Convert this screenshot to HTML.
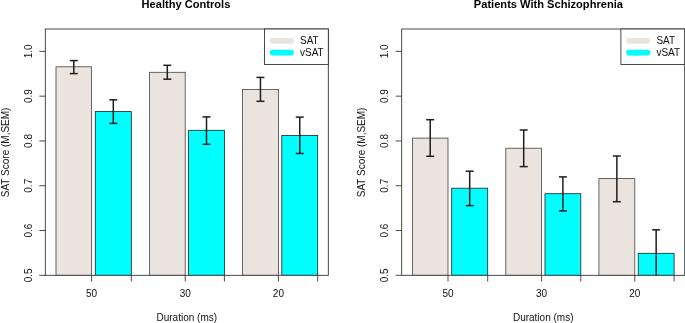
<!DOCTYPE html>
<html><head><meta charset="utf-8"><style>
html,body{margin:0;padding:0;background:#fff;width:685px;height:323px;overflow:hidden;}
svg{display:block;will-change:transform;}
text{font-family:"Liberation Sans",sans-serif;}
</style></head><body>
<svg width="685" height="323" viewBox="0 0 685 323"><rect width="685" height="323" fill="#fff"/><defs><clipPath id="c0"><rect x="45.30" y="29.00" width="283.00" height="246.30"/></clipPath><clipPath id="c1"><rect x="401.70" y="29.00" width="283.00" height="246.30"/></clipPath></defs><g clip-path="url(#c0)"><rect x="56.00" y="66.80" width="35.60" height="208.50" fill="#EBE3DE" stroke="#444" stroke-width="0.8"/><rect x="95.30" y="111.60" width="36.00" height="163.70" fill="#00FFFF" stroke="#222" stroke-width="0.8"/><rect x="149.40" y="72.30" width="35.80" height="203.00" fill="#EBE3DE" stroke="#444" stroke-width="0.8"/><rect x="188.60" y="130.30" width="35.80" height="145.00" fill="#00FFFF" stroke="#222" stroke-width="0.8"/><rect x="242.50" y="89.40" width="35.90" height="185.90" fill="#EBE3DE" stroke="#444" stroke-width="0.8"/><rect x="281.80" y="135.40" width="35.90" height="139.90" fill="#00FFFF" stroke="#222" stroke-width="0.8"/></g><g stroke="#1e1e1e" stroke-width="1.5"><line x1="73.80" y1="60.60" x2="73.80" y2="73.60"/><line x1="69.80" y1="60.60" x2="77.80" y2="60.60"/><line x1="69.80" y1="73.60" x2="77.80" y2="73.60"/><line x1="113.30" y1="99.80" x2="113.30" y2="123.40"/><line x1="109.30" y1="99.80" x2="117.30" y2="99.80"/><line x1="109.30" y1="123.40" x2="117.30" y2="123.40"/><line x1="167.30" y1="65.30" x2="167.30" y2="79.20"/><line x1="163.30" y1="65.30" x2="171.30" y2="65.30"/><line x1="163.30" y1="79.20" x2="171.30" y2="79.20"/><line x1="206.50" y1="116.90" x2="206.50" y2="144.30"/><line x1="202.50" y1="116.90" x2="210.50" y2="116.90"/><line x1="202.50" y1="144.30" x2="210.50" y2="144.30"/><line x1="260.45" y1="77.40" x2="260.45" y2="101.30"/><line x1="256.45" y1="77.40" x2="264.45" y2="77.40"/><line x1="256.45" y1="101.30" x2="264.45" y2="101.30"/><line x1="299.75" y1="117.10" x2="299.75" y2="153.50"/><line x1="295.75" y1="117.10" x2="303.75" y2="117.10"/><line x1="295.75" y1="153.50" x2="303.75" y2="153.50"/></g><rect x="45.30" y="29.00" width="283.00" height="246.30" fill="none" stroke="#2a2a2a" stroke-width="0.85"/><g stroke="#2a2a2a" stroke-width="0.85"><line x1="39.30" y1="275.30" x2="45.30" y2="275.30"/><line x1="39.30" y1="230.52" x2="45.30" y2="230.52"/><line x1="39.30" y1="185.74" x2="45.30" y2="185.74"/><line x1="39.30" y1="140.95" x2="45.30" y2="140.95"/><line x1="39.30" y1="96.17" x2="45.30" y2="96.17"/><line x1="39.30" y1="51.39" x2="45.30" y2="51.39"/><line x1="91.60" y1="275.30" x2="91.60" y2="281.50"/><line x1="131.30" y1="275.30" x2="131.30" y2="281.50"/><line x1="185.20" y1="275.30" x2="185.20" y2="281.50"/><line x1="224.40" y1="275.30" x2="224.40" y2="281.50"/><line x1="278.40" y1="275.30" x2="278.40" y2="281.50"/><line x1="317.70" y1="275.30" x2="317.70" y2="281.50"/></g><g font-family="Liberation Sans" font-size="10" fill="#111"><text transform="translate(31.60,275.30) rotate(-90)" text-anchor="middle">0.5</text><text transform="translate(31.60,230.52) rotate(-90)" text-anchor="middle">0.6</text><text transform="translate(31.60,185.74) rotate(-90)" text-anchor="middle">0.7</text><text transform="translate(31.60,140.95) rotate(-90)" text-anchor="middle">0.8</text><text transform="translate(31.60,96.17) rotate(-90)" text-anchor="middle">0.9</text><text transform="translate(31.60,51.39) rotate(-90)" text-anchor="middle">1.0</text><text x="91.60" y="296.6" text-anchor="middle">50</text><text x="185.20" y="296.6" text-anchor="middle">30</text><text x="278.40" y="296.6" text-anchor="middle">20</text><text x="186.80" y="320.6" text-anchor="middle">Duration (ms)</text><text transform="translate(8.60,152.4) rotate(-90)" text-anchor="middle">SAT Score (M,SEM)</text></g><text x="186.00" y="7.9" text-anchor="middle" font-family="Liberation Sans" font-weight="bold" font-size="11.1" fill="#000">Healthy Controls</text><rect x="264.50" y="29.00" width="63.80" height="35.50" fill="#fff" stroke="#2a2a2a" stroke-width="0.85"/><line x1="272.60" y1="40.8" x2="291.10" y2="40.8" stroke="#EBE3DE" stroke-width="5.7" stroke-linecap="round"/><line x1="272.60" y1="52.6" x2="291.10" y2="52.6" stroke="#00FFFF" stroke-width="5.7" stroke-linecap="round"/><text x="300.00" y="44.1" font-family="Liberation Sans" font-size="10" fill="#111">SAT</text><text x="300.00" y="56.0" font-family="Liberation Sans" font-size="10" fill="#111">vSAT</text><g clip-path="url(#c1)"><rect x="412.40" y="138.10" width="35.60" height="137.20" fill="#EBE3DE" stroke="#444" stroke-width="0.8"/><rect x="451.70" y="188.20" width="36.00" height="87.10" fill="#00FFFF" stroke="#222" stroke-width="0.8"/><rect x="505.80" y="148.20" width="35.80" height="127.10" fill="#EBE3DE" stroke="#444" stroke-width="0.8"/><rect x="545.00" y="193.70" width="35.80" height="81.60" fill="#00FFFF" stroke="#222" stroke-width="0.8"/><rect x="598.90" y="178.60" width="35.90" height="96.70" fill="#EBE3DE" stroke="#444" stroke-width="0.8"/><rect x="638.20" y="253.30" width="35.90" height="22.00" fill="#00FFFF" stroke="#222" stroke-width="0.8"/></g><g stroke="#1e1e1e" stroke-width="1.5"><line x1="430.20" y1="119.70" x2="430.20" y2="156.30"/><line x1="426.20" y1="119.70" x2="434.20" y2="119.70"/><line x1="426.20" y1="156.30" x2="434.20" y2="156.30"/><line x1="469.70" y1="171.20" x2="469.70" y2="205.60"/><line x1="465.70" y1="171.20" x2="473.70" y2="171.20"/><line x1="465.70" y1="205.60" x2="473.70" y2="205.60"/><line x1="523.70" y1="130.00" x2="523.70" y2="166.60"/><line x1="519.70" y1="130.00" x2="527.70" y2="130.00"/><line x1="519.70" y1="166.60" x2="527.70" y2="166.60"/><line x1="562.90" y1="176.90" x2="562.90" y2="210.90"/><line x1="558.90" y1="176.90" x2="566.90" y2="176.90"/><line x1="558.90" y1="210.90" x2="566.90" y2="210.90"/><line x1="616.85" y1="156.00" x2="616.85" y2="201.70"/><line x1="612.85" y1="156.00" x2="620.85" y2="156.00"/><line x1="612.85" y1="201.70" x2="620.85" y2="201.70"/><line x1="656.15" y1="229.80" x2="656.15" y2="275.30"/><line x1="652.15" y1="229.80" x2="660.15" y2="229.80"/></g><rect x="401.70" y="29.00" width="283.00" height="246.30" fill="none" stroke="#2a2a2a" stroke-width="0.85"/><g stroke="#2a2a2a" stroke-width="0.85"><line x1="395.70" y1="275.30" x2="401.70" y2="275.30"/><line x1="395.70" y1="230.52" x2="401.70" y2="230.52"/><line x1="395.70" y1="185.74" x2="401.70" y2="185.74"/><line x1="395.70" y1="140.95" x2="401.70" y2="140.95"/><line x1="395.70" y1="96.17" x2="401.70" y2="96.17"/><line x1="395.70" y1="51.39" x2="401.70" y2="51.39"/><line x1="448.00" y1="275.30" x2="448.00" y2="281.50"/><line x1="487.70" y1="275.30" x2="487.70" y2="281.50"/><line x1="541.60" y1="275.30" x2="541.60" y2="281.50"/><line x1="580.80" y1="275.30" x2="580.80" y2="281.50"/><line x1="634.80" y1="275.30" x2="634.80" y2="281.50"/><line x1="674.10" y1="275.30" x2="674.10" y2="281.50"/></g><g font-family="Liberation Sans" font-size="10" fill="#111"><text transform="translate(388.00,275.30) rotate(-90)" text-anchor="middle">0.5</text><text transform="translate(388.00,230.52) rotate(-90)" text-anchor="middle">0.6</text><text transform="translate(388.00,185.74) rotate(-90)" text-anchor="middle">0.7</text><text transform="translate(388.00,140.95) rotate(-90)" text-anchor="middle">0.8</text><text transform="translate(388.00,96.17) rotate(-90)" text-anchor="middle">0.9</text><text transform="translate(388.00,51.39) rotate(-90)" text-anchor="middle">1.0</text><text x="448.00" y="296.6" text-anchor="middle">50</text><text x="541.60" y="296.6" text-anchor="middle">30</text><text x="634.80" y="296.6" text-anchor="middle">20</text><text x="543.20" y="320.6" text-anchor="middle">Duration (ms)</text><text transform="translate(365.00,152.4) rotate(-90)" text-anchor="middle">SAT Score (M,SEM)</text></g><text x="548.40" y="7.9" text-anchor="middle" font-family="Liberation Sans" font-weight="bold" font-size="11.1" fill="#000">Patients With Schizophrenia</text><rect x="620.90" y="29.00" width="63.80" height="35.50" fill="#fff" stroke="#2a2a2a" stroke-width="0.85"/><line x1="629.00" y1="40.8" x2="647.50" y2="40.8" stroke="#EBE3DE" stroke-width="5.7" stroke-linecap="round"/><line x1="629.00" y1="52.6" x2="647.50" y2="52.6" stroke="#00FFFF" stroke-width="5.7" stroke-linecap="round"/><text x="656.40" y="44.1" font-family="Liberation Sans" font-size="10" fill="#111">SAT</text><text x="656.40" y="56.0" font-family="Liberation Sans" font-size="10" fill="#111">vSAT</text></svg>
</body></html>
